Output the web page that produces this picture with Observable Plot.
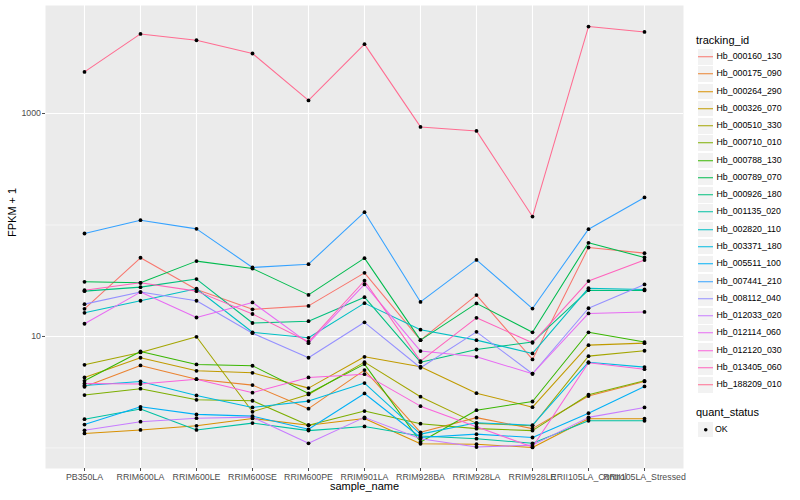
<!DOCTYPE html>
<html><head><meta charset="utf-8">
<script src="https://cdn.jsdelivr.net/npm/d3@7"></script>
<script src="https://cdn.jsdelivr.net/npm/@observablehq/plot@0.6"></script>
<style>
body{margin:0;background:#fff;font-family:"Liberation Sans",Arial,sans-serif;}
#wrap{position:relative;width:800px;height:500px;overflow:hidden;}
#legend{position:absolute;left:0;top:0;width:800px;height:500px;pointer-events:none;}
.lt{position:absolute;font-size:11px;color:#000;white-space:nowrap;}
.lk{position:absolute;width:15.5px;height:15.5px;background:#F2F2F2;border:0.9px solid #fff;}
.ll{position:absolute;font-size:8.8px;color:#000;white-space:nowrap;}
</style></head>
<body><div id="wrap"><div id="chart"></div><div id="legend"></div></div>
<script>
const samples = ["PB350LA","RRIM600LA","RRIM600LE","RRIM600SE","RRIM600PE","RRIM901LA","RRIM928BA","RRIM928LA","RRIM928LE","RRII105LA_Control","RRII105LA_Stressed"];
const trackingIds = ["Hb_000160_130","Hb_000175_090","Hb_000264_290","Hb_000326_070","Hb_000510_330","Hb_000710_010","Hb_000788_130","Hb_000789_070","Hb_000926_180","Hb_001135_020","Hb_002820_110","Hb_003371_180","Hb_005511_100","Hb_007441_210","Hb_008112_040","Hb_012033_020","Hb_012114_060","Hb_012120_030","Hb_013405_060","Hb_188209_010"];
const palette = ["#F8766D","#EA8331","#D89000","#C09B00","#A3A500","#7CAE00","#39B600","#00BB4E","#00BF7D","#00C1A3","#00BFC4","#00BAE0","#00B0F6","#35A2FF","#9590FF","#C77CFF","#E76BF3","#FA62DB","#FF62BC","#FF6C91"];
const majorBreaks = [10, 1000];
const minorBreaks = [1, 100];
const quantStatus = ["OK"];

// FPKM + 1 per sample
const Hb_000160_130 = [17.7, 50.8, 26.4, 17.5, 18.8, 37.2, 9.27, 23.5, 6.22, 62.8, 55.9];
const Hb_000175_090 = [3.54, 5.50, 4.14, 3.66, 2.25, 4.99, 1.38, 1.87, 1.49, 2.92, 3.95];
const Hb_000264_290 = [1.35, 1.45, 1.58, 1.84, 1.60, 1.84, 1.09, 1.08, 1.01, 1.83, 1.83];
const Hb_000326_070 = [4.29, 6.44, 4.92, 4.72, 3.44, 6.57, 5.35, 3.10, 2.32, 8.36, 8.71];
const Hb_000510_330 = [5.57, 7.19, 9.93, 2.11, 3.02, 5.88, 2.88, 1.66, 1.58, 6.66, 7.44];
const Hb_000710_010 = [2.98, 3.40, 2.70, 2.65, 1.60, 2.14, 1.65, 1.49, 1.43, 3.00, 4.00];
const Hb_000788_130 = [4.00, 7.34, 5.61, 5.46, 3.08, 5.65, 1.13, 2.18, 2.61, 10.9, 8.90];
const Hb_000789_070 = [30.9, 30.3, 47.4, 40.7, 23.6, 50.4, 9.27, 19.8, 10.9, 69.2, 51.1];
const Hb_000926_180 = [25.5, 27.7, 32.7, 13.2, 13.7, 22.5, 5.88, 7.64, 8.90, 26.0, 25.9];
const Hb_001135_020 = [1.81, 2.23, 1.45, 1.67, 1.43, 1.56, 1.28, 1.21, 1.10, 1.75, 1.75];
const Hb_002820_110 = [16.3, 20.9, 26.8, 10.9, 9.73, 19.9, 11.5, 9.27, 7.04, 27.1, 26.4];
const Hb_003371_180 = [3.63, 3.95, 2.96, 2.31, 2.63, 3.82, 1.33, 1.68, 1.60, 5.88, 5.31];
const Hb_005511_100 = [1.62, 2.34, 2.00, 1.93, 1.47, 3.08, 1.24, 1.33, 1.24, 2.05, 3.56];
const Hb_007441_210 = [83.9, 110.4, 92.3, 41.6, 44.5, 130.3, 20.4, 48.6, 17.8, 91.7, 176.5];
const Hb_008112_040 = [19.5, 25.0, 20.9, 10.7, 6.44, 13.4, 5.24, 11.0, 4.63, 17.9, 29.3];
const Hb_012033_020 = [1.44, 1.72, 1.85, 1.89, 1.10, 1.88, 1.21, 1.02, 1.06, 1.88, 2.31];
const Hb_012114_060 = [13.0, 25.0, 14.8, 20.2, 8.71, 29.3, 7.39, 6.57, 4.63, 16.1, 16.6];
const Hb_012120_030 = [3.79, 3.74, 4.14, 3.13, 4.29, 4.59, 2.37, 1.55, 1.02, 5.81, 5.09];
const Hb_013405_060 = [26.0, 30.3, 25.5, 15.9, 8.96, 31.6, 6.01, 14.7, 8.77, 31.4, 48.4];
const Hb_188209_010 = [2360, 5176, 4540, 3452, 1309, 4188, 758, 698, 119, 6026, 5395];

const seriesValues = [Hb_000160_130, Hb_000175_090, Hb_000264_290, Hb_000326_070, Hb_000510_330, Hb_000710_010, Hb_000788_130, Hb_000789_070, Hb_000926_180, Hb_001135_020, Hb_002820_110, Hb_003371_180, Hb_005511_100, Hb_007441_210, Hb_008112_040, Hb_012033_020, Hb_012114_060, Hb_012120_030, Hb_013405_060, Hb_188209_010];

const data = trackingIds.flatMap((id, i) => seriesValues[i].map((v, j) => ({sample: samples[j], id, value: v, status: quantStatus[0]})));

const logExt = d3.extent(data, d => Math.log10(d.value));
const pad = (logExt[1] - logExt[0]) * 0.05;
const yDomain = [10 ** (logExt[0] - pad), 10 ** (logExt[1] + pad)];

const chart = Plot.plot({
  width: 800, height: 500,
  marginLeft: 45, marginRight: 117, marginTop: 5, marginBottom: 32,
  style: {fontFamily: '"Liberation Sans", Arial, sans-serif', background: "#fff", overflow: "visible"},
  x: {type: "point", domain: samples, padding: 0.6},
  y: {type: "log", domain: yDomain},
  color: {domain: trackingIds, range: palette},
  marks: [
    Plot.frame({fill: "#EBEBEB", stroke: "none"}),
    Plot.ruleY(minorBreaks, {stroke: "#fff", strokeWidth: 0.55}),
    Plot.ruleY(majorBreaks, {stroke: "#fff", strokeWidth: 1.1}),
    Plot.ruleX(samples, {stroke: "#fff", strokeWidth: 1.1}),
    Plot.line(data, {x: "sample", y: "value", z: "id", stroke: "id", strokeWidth: 1.05}),
    Plot.dot(data, {x: "sample", y: "value", fill: "#000", stroke: "none", r: 1.9}),
    Plot.axisX({tickSize: 3, tickPadding: 2, fontSize: 8.8, label: null, color: "#4D4D4D"}),
    Plot.axisY({ticks: majorBreaks, tickFormat: d => String(d), tickSize: 3, tickPadding: 1.5, fontSize: 8.8, label: null, color: "#4D4D4D"}),
    Plot.text(["sample_name"], {frameAnchor: "bottom", dy: 21.5, fontSize: 11, fill: "#000"}),
    Plot.text(["FPKM + 1"], {frameAnchor: "left", dx: -33, rotate: -90, fontSize: 11, fill: "#000"})
  ]
});
document.getElementById("chart").appendChild(chart);

// Legend (HTML)
const lg = document.getElementById("legend");
function add(cls, left, top, html) {
  const e = document.createElement("div");
  e.className = cls; e.style.left = left + "px"; e.style.top = top + "px";
  if (html !== undefined) e.innerHTML = html;
  lg.appendChild(e); return e;
}
add("lt", 696, 34, "tracking_id");
const step = 17.27, top0 = 48;
trackingIds.forEach((id, i) => {
  const t = top0 + i * step;
  const k = add("lk", 696.5, t);
  k.innerHTML = `<svg width="15.5" height="15.5" style="position:absolute;left:0;top:0"><line x1="0" x2="15.5" y1="7.75" y2="7.75" stroke="${palette[i]}" stroke-width="1"/></svg>`;
  add("ll", 716.5, t + 3, id);
});
add("lt", 696, 405.5, "quant_status");
const k2 = add("lk", 696.5, 420.5);
k2.innerHTML = `<svg width="15.5" height="15.5" style="position:absolute;left:0;top:0"><circle cx="7.75" cy="7.75" r="1.8" fill="#000"/></svg>`;
add("ll", 715, 423.5, quantStatus[0]);
</script>
</body></html>
